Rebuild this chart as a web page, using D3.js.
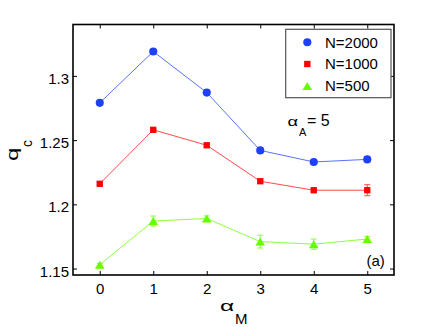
<!DOCTYPE html>
<html>
<head>
<meta charset="utf-8">
<script src="https://cdn.jsdelivr.net/npm/d3@7"></script>
<style>
  body { margin: 0; background: #fff; }
  text { font-family: "Liberation Sans", Arial, sans-serif; fill: #000; }
</style>
</head>
<body>
<div id="chart"></div>
<script>
// data
var alphaM = [0, 1, 2, 3, 4, 5];
var q2000 = [1.279, 1.319, 1.287, 1.242, 1.233, 1.235];
var e2000 = [0.001, 0.001, 0.001, 0.001, 0.001, 0.001];
var q1000 = [1.216, 1.258, 1.246, 1.218, 1.211, 1.211];
var e1000 = [0.001, 0.001, 0.001, 0.001, 0.001, 0.0043];
var q500 = [1.153, 1.187, 1.189, 1.171, 1.169, 1.173];
var e500 = [0.001, 0.0039, 0.002, 0.005, 0.004, 0.002];
var seriesNames = ["N=2000", "N=1000", "N=500"];
var xTicks = [0, 1, 2, 3, 4, 5];
var xTickLabels = ["0", "1", "2", "3", "4", "5"];
var yTicks = [1.15, 1.2, 1.25, 1.3];
var yTickLabels = ["1.15", "1.2", "1.25", "1.3"];

// set the dimensions and margins of the graph
var margin = {top: 24.5, right: 41, bottom: 52, left: 73},
    width = 435 - margin.left - margin.right,
    height = 327 - margin.top - margin.bottom;

var x = d3.scaleLinear().domain([-0.5, 5.5]).range([0, width]);
var y = d3.scaleLinear().domain([1.145, 1.34]).range([height, 0]);

// triangle marker centred on its bounding box
var triangle = {
  draw: function(ctx, size) {
    var s = Math.sqrt(size);
    ctx.moveTo(0, -s * 0.45);
    ctx.lineTo(s * 0.55, s * 0.45);
    ctx.lineTo(-s * 0.55, s * 0.45);
    ctx.closePath();
  }
};

var series = [
  {name: seriesNames[0], values: q2000, err: e2000, color: "#1f3fff", line: "#5873ff", type: d3.symbolCircle, size: 52},
  {name: seriesNames[1], values: q1000, err: e1000, color: "#ff0000", line: "#ff4a4a", type: d3.symbolSquare, size: 40},
  {name: seriesNames[2], values: q500, err: e500, color: "#66ff00", line: "#8cff40", type: triangle, size: 78}
];

var svg = d3.select("#chart").append("svg")
    .attr("width", 435)
    .attr("height", 327);

var g = svg.append("g")
    .attr("transform", "translate(" + margin.left + "," + margin.top + ")");

var valueline = d3.line()
    .x(function(d) { return x(d.x); })
    .y(function(d) { return y(d.y); });

series.forEach(function(s) {
  var pts = alphaM.map(function(a, i) { return {x: a, y: s.values[i], e: s.err[i]}; });

  g.append("path")
      .datum(pts)
      .style("fill", "none")
      .style("stroke", s.line)
      .style("stroke-width", "1px")
      .attr("d", valueline);

  // error bars
  var eb = g.selectAll(null)
      .data(pts)
    .enter().append("g")
      .style("stroke", s.line)
      .style("stroke-width", "1px");
  eb.append("line")
      .attr("x1", function(d) { return x(d.x); })
      .attr("x2", function(d) { return x(d.x); })
      .attr("y1", function(d) { return y(d.y - d.e); })
      .attr("y2", function(d) { return y(d.y + d.e); });
  eb.append("line")
      .attr("x1", function(d) { return x(d.x) - 3; })
      .attr("x2", function(d) { return x(d.x) + 3; })
      .attr("y1", function(d) { return y(d.y - d.e); })
      .attr("y2", function(d) { return y(d.y - d.e); });
  eb.append("line")
      .attr("x1", function(d) { return x(d.x) - 3; })
      .attr("x2", function(d) { return x(d.x) + 3; })
      .attr("y1", function(d) { return y(d.y + d.e); })
      .attr("y2", function(d) { return y(d.y + d.e); });

  g.selectAll(null)
      .data(pts)
    .enter().append("path")
      .attr("d", d3.symbol().type(s.type).size(s.size))
      .attr("transform", function(d) { return "translate(" + x(d.x) + "," + y(d.y) + ")"; })
      .style("fill", s.color)
      .style("stroke", "none");
});

// axes, ticks inward on all four sides
var xb = g.append("g")
    .attr("transform", "translate(0," + height + ")")
    .call(d3.axisBottom(x).tickValues(xTicks).tickSize(-4).tickPadding(8)
      .tickFormat(function(d, i) { return xTickLabels[i]; }));
var yl = g.append("g")
    .call(d3.axisLeft(y).tickValues(yTicks).tickSize(-4).tickPadding(4)
      .tickFormat(function(d, i) { return yTickLabels[i]; }));
var xt = g.append("g")
    .call(d3.axisTop(x).tickValues(xTicks).tickSize(-4).tickFormat(""));
var yr = g.append("g")
    .attr("transform", "translate(" + width + ",0)")
    .call(d3.axisRight(y).tickValues(yTicks).tickSize(-4).tickFormat(""));

[xb, yl, xt, yr].forEach(function(a) {
  a.select(".domain").remove();
  a.selectAll(".tick line").style("stroke", "#000").style("stroke-width", "1px");
  a.selectAll("text").style("font-size", "15px").style("font-family", "Liberation Sans, Arial, sans-serif").attr("fill", "#000");
});
yl.selectAll("text").attr("dy", "0.5em");

g.append("rect")
    .attr("width", width)
    .attr("height", height)
    .style("fill", "none")
    .style("stroke", "#000")
    .style("stroke-width", "1.6px");

// legend
var legend = svg.append("g");
legend.append("rect")
    .attr("x", 285.7).attr("y", 29.3)
    .attr("width", 105.3).attr("height", 68.4)
    .style("fill", "#fff")
    .style("stroke", "#555")
    .style("stroke-width", "1.2px");
var legendY = [42.3, 64, 86];
series.forEach(function(s, i) {
  legend.append("path")
      .attr("d", d3.symbol().type(s.type).size(s.size))
      .attr("transform", "translate(307.3," + legendY[i] + ")")
      .style("fill", s.color);
  legend.append("text")
      .attr("x", 325)
      .attr("y", legendY[i] + 5.4)
      .style("font-size", "15px")
      .text(s.name);
});

// x label alpha_M
svg.append("text")
    .attr("transform", "translate(220,310.7) scale(1.75,1)")
    .style("font-size", "14px")
    .text("α");
svg.append("text")
    .attr("x", 235).attr("y", 324)
    .style("font-size", "15px")
    .text("M");

// y label q_c
var ylab = svg.append("g")
    .attr("transform", "translate(17.6,161) rotate(-90)");
ylab.append("text")
    .attr("transform", "scale(1.5,1)")
    .style("font-size", "16px")
    .text("q");
ylab.append("text")
    .attr("x", 14).attr("y", 14.4)
    .style("font-size", "14px")
    .text("c");

// annotation alpha_A = 5
svg.append("text")
    .attr("transform", "translate(287.5,125.5) scale(1.4,0.95)")
    .style("font-size", "13px")
    .text("α");
svg.append("text")
    .attr("x", 299).attr("y", 136)
    .style("font-size", "11px")
    .text("A");
svg.append("text")
    .attr("x", 307).attr("y", 126)
    .style("font-size", "16px")
    .text("= 5");

// panel tag
svg.append("text")
    .attr("x", 366.5).attr("y", 265.5)
    .style("font-size", "15px")
    .text("(a)");
</script>
</body>
</html>
